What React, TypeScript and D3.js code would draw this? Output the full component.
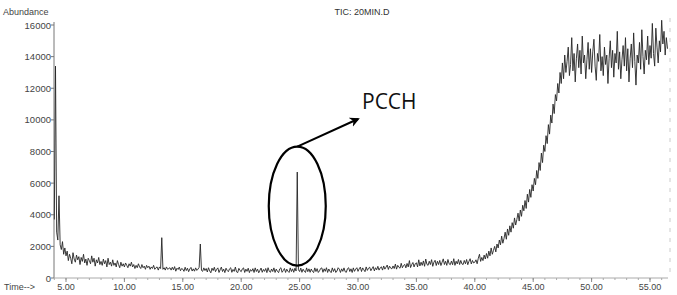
import React from "react";
import * as d3 from "d3";

const T0 = 4.0;
const STEP = 0.1;
// Abundance values every 0.1 min from 4.0 to 56.5
const abundance: number[] = [
  // 4.0
  3700, 13400, 2900, 2400, 5200, 2100, 1800, 2300, 1500, 1900,
  // 5.0
  1400, 1700, 1100, 1500, 1250, 900, 1600, 1200, 1000, 1450,
  1150, 1350, 850, 1300, 1050, 1500, 950, 1200, 800, 1250,
  1100, 900, 1400, 1000, 1250, 750, 1150, 950, 1300, 850,
  1050, 800, 1200, 900, 1100, 700, 1250, 850, 1000, 750,
  1150, 800, 950, 700, 1100, 850, 650, 1000, 750, 900,
  // 10.0
  700, 950, 800, 650, 900, 750, 1000, 700, 850, 600,
  800, 650, 900, 700, 600, 850, 650, 750, 550, 800,
  650, 750, 550, 700, 600, 800, 550, 650, 700, 500,
  700, 600, 2550, 550, 650, 500, 700, 550, 600, 650,
  500, 680, 520, 720, 430, 620, 540, 690, 460, 600,
  // 15.0
  560, 420, 680, 470, 620, 400, 570, 670, 440, 580,
  430, 640, 480, 560, 670, 2150, 480, 420, 640, 470,
  600, 380, 650, 450, 330, 620, 470, 680, 400, 550,
  640, 350, 520, 690, 410, 560, 340, 620, 480, 400,
  580, 650, 360, 540, 420, 690, 390, 340, 610, 470,
  // 20.0
  400, 580, 640, 350, 560, 420, 620, 340, 530, 430,
  590, 350, 640, 410, 560, 330, 480, 630, 360, 540,
  420, 600, 340, 650, 430, 360, 570, 410, 640, 350,
  560, 420, 340, 580, 650, 360, 470, 600, 350, 560,
  430, 350, 640, 410, 580, 360, 620, 440, 6700, 520,
  // 25.0
  410, 630, 360, 560, 430, 350, 640, 400, 580, 360,
  570, 420, 340, 640, 410, 590, 350, 450, 600, 640,
  360, 580, 420, 650, 350, 570, 430, 340, 640, 410,
  590, 350, 440, 650, 560, 350, 580, 420, 640, 400,
  360, 590, 650, 410, 580, 350, 640, 420, 560, 650,
  // 30.0
  420, 580, 690, 410, 640, 520, 400, 700, 480, 620,
  680, 460, 590, 720, 450, 650, 520, 740, 500, 640,
  710, 500, 760, 560, 690, 820, 540, 750, 620, 580,
  760, 600, 880, 560, 800, 680, 620, 930, 650, 790,
  860, 640, 920, 700, 1100, 660, 850, 980, 700, 900,
  // 35.0
  960, 700, 1150, 760, 1000, 800, 1080, 740, 1200, 860,
  800, 1060, 850, 1160, 740, 1000, 1120, 790, 1060, 850,
  1110, 790, 1000, 1210, 850, 1060, 800, 1170, 900, 840,
  1070, 840, 1220, 800, 1060, 890, 1170, 850, 1110, 890,
  850, 1110, 900, 1170, 840, 1060, 1220, 890, 1110, 950,
  // 40.0
  1000, 1150, 900, 1250, 1500, 1050, 1300, 1100, 1450, 1200,
  1550, 1250, 1700, 1400, 1900, 1500, 1750, 2000, 1650, 2150,
  1900, 2400, 2100, 2650, 2200, 2500, 2900, 2450, 3100, 2700,
  3300, 2900, 3500, 3150, 3800, 3350, 3700, 4100, 3600, 4300,
  3900, 4600, 4250, 4900, 4400, 5300, 4800, 5600, 5100, 5900,
  // 45.0
  5500, 6300, 5900, 6800, 6300, 7300, 6800, 7900, 7300, 8400,
  8000, 9000, 8500, 9700, 9100, 10300, 9800, 11000, 10400, 11600,
  11200, 12300, 11700, 13000, 12300, 13600, 12600, 14100, 13000, 13700,
  14600, 12800, 13500, 15200, 13100, 14200, 12400, 13900, 14800, 13300,
  14400, 12900, 15300, 13600, 14100, 12600, 13800, 14900, 13200, 14500,
  // 50.0
  13000, 14300, 15100, 13400, 12500, 14200, 13700, 15400, 13100, 14000,
  12800, 14600, 13500, 14100, 12300, 13900, 15000, 13300, 14400, 12700,
  14200, 13600, 15600, 13200, 14300, 12600, 13800, 14700, 13400, 15200,
  13100, 14500, 12400, 13900, 14800, 13300, 15500, 13700, 12200, 14100,
  13600, 14900, 13200, 15700, 14000, 12900, 14400, 13800, 15300, 13500,
  // 55.0
  14700, 13900, 16100, 14200, 13400, 15800, 14600, 13600, 15000, 14300,
  16300, 14800, 15600, 14100, 15200, 14500,
];

const xTickValues = [5, 10, 15, 20, 25, 30, 35, 40, 45, 50, 55];
const yTickValues = [0, 2000, 4000, 6000, 8000, 10000, 12000, 14000, 16000];
const titleText = "TIC: 20MIN.D";
const yLabel = "Abundance";
const xLabel = "Time-->";
const annotationText = "PCCH";
const peakTime = 24.8;

export default function App() {
  const W = 677, H = 295;
  const x = d3.scaleLinear().domain([5, 55]).range([66, 650]);
  const y = d3.scaleLinear().domain([0, 16000]).range([278, 25]);
  const axisX = 54;
  const axisY = 278;

  const pts: [number, number][] = abundance.map((v, i) => [T0 + i * STEP, v]);
  const line = d3.line<[number, number]>().x((d) => x(d[0])).y((d) => y(d[1]));

  const minorTicks = d3.range(4, 57, 1);

  const ex = x(peakTime);
  const ey = y(4550);
  const rx = 28.5, ry = 59.5;
  const ax1 = ex, ay1 = ey - ry;
  const ax2 = 358, ay2 = 119;

  const font = "'Liberation Sans', Arial, sans-serif";

  return (
    <svg width={W} height={H} style={{ position: "absolute", left: 0, top: 0, background: "#fff" }}>
      <defs>
        <marker id="arr" viewBox="0 0 10 10" refX="8" refY="5" markerWidth="5" markerHeight="5" orient="auto">
          <path d="M0,0 L10,5 L0,10 L3,5 z" fill="#000" />
        </marker>
      </defs>
      <line x1={670} x2={670} y1={18} y2={axisY} stroke="#ccc" strokeWidth={1} strokeDasharray="4 6" />
      <line x1={axisX} x2={axisX} y1={axisY} y2={22} stroke="#777" strokeWidth={1} />
      {yTickValues.map((v) => (
        <g key={v}>
          <line x1={axisX - 3} x2={axisX} y1={y(v)} y2={y(v)} stroke="#777" />
          <text x={axisX - 3} y={y(v) + 3.5} textAnchor="end" fontSize={9.5} fill="#444" fontFamily={font}>
            {v}
          </text>
        </g>
      ))}
      <line x1={axisX} x2={668} y1={axisY} y2={axisY} stroke="#aaa" strokeWidth={1} />
      {minorTicks.map((t) => (
        <line key={t} x1={x(t)} x2={x(t)} y1={axisY} y2={axisY + 2} stroke="#aaa" />
      ))}
      {xTickValues.map((t) => (
        <g key={t}>
          <line x1={x(t)} x2={x(t)} y1={axisY} y2={axisY + 4} stroke="#888" />
          <text x={x(t)} y={axisY + 12} textAnchor="middle" fontSize={9} fill="#444" fontFamily={font}>
            {t.toFixed(2)}
          </text>
        </g>
      ))}
      <text x={4} y={axisY + 12} fontSize={9} fill="#444" fontFamily={font}>{xLabel}</text>
      <text x={3} y={15} fontSize={9} fill="#444" fontFamily={font}>{yLabel}</text>
      <text x={362} y={15} textAnchor="middle" fontSize={9} fill="#333" fontFamily={font}>{titleText}</text>
      <path d={line(pts) ?? ""} fill="none" stroke="#262626" strokeWidth={1} strokeOpacity={0.9} />
      <ellipse cx={ex} cy={ey} rx={rx} ry={ry} fill="none" stroke="#000" strokeWidth={2.2} />
      <line x1={ax1} y1={ay1} x2={ax2} y2={ay2} stroke="#000" strokeWidth={2} markerEnd="url(#arr)" />
      <text x={362} y={109} fontSize={21} fill="#111" fontFamily="'Open Sans', sans-serif">{annotationText}</text>
    </svg>
  );
}
